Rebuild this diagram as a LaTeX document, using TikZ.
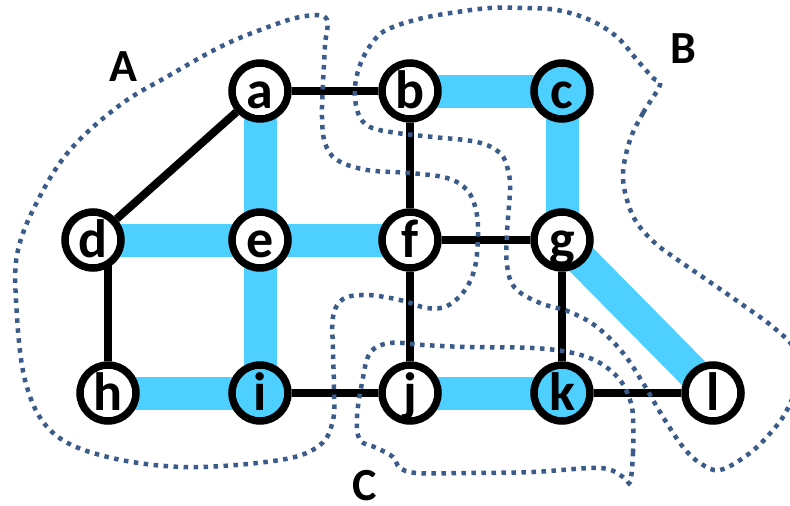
\documentclass[tikz,border=0pt]{standalone}
\usepackage{fontspec}
\setmainfont{Carlito}
\usetikzlibrary{backgrounds}

\definecolor{treeblue}{RGB}{77,208,255}
\definecolor{cutblue}{RGB}{59,91,138}

\begin{document}
\begin{tikzpicture}[
    x=1pt, y=-1pt,
    vertex/.style={circle, draw, line width=7.5pt, fill=white, minimum size=56pt, inner sep=0pt, text height=35pt, text depth=0pt, font=\fontsize{54}{60}\selectfont\bfseries},
    edge/.style={draw, line width=8pt},
    tree/.style={draw, treeblue, line width=33pt},
    cut/.style={draw, cutblue, line width=4.5pt, dash pattern=on 4.5pt off 5.5pt},
    region/.style={inner sep=0pt, font=\fontsize{46}{50}\selectfont\bfseries}
]
\clip (0,0) rectangle (790,506);

% Define node positions
\node[vertex] (a) at (260, 91) {a};
\node[vertex] (b) at (410, 91) {b};
\node[vertex, fill=treeblue] (c) at (562, 91) {c};
\node[vertex] (d) at (93, 240) {d};
\node[vertex] (e) at (260, 240) {e};
\node[vertex] (f) at (410, 240) {f};
\node[vertex] (g) at (562, 240) {g};
\node[vertex] (h) at (108, 393) {h};
\node[vertex, fill=treeblue] (i) at (260, 393) {i};
\node[vertex] (j) at (410, 393) {j};
\node[vertex, fill=treeblue] (k) at (562, 393) {k};
\node[vertex] (l) at (713, 393) {l};

% Region labels
\node[region] (labA) at (123, 67) {A};
\node[region] (labB) at (683, 49) {B};
\node[region] (labC) at (365, 486) {C};

\begin{scope}[on background layer]
% Spanning tree edges (wide blue)
\draw[tree] (a.center) -- (e.center);
\draw[tree] (d.center) -- (e.center);
\draw[tree] (e.center) -- (f.center);
\draw[tree] (e.center) -- (i.center);
\draw[tree] (h.center) -- (i.center);
\draw[tree] (b.center) -- (c.center);
\draw[tree] (c.center) -- (g.center);
\draw[tree] (g.center) -- (l.center);
\draw[tree] (j.center) -- (k.center);

% Other edges
\draw[edge] (a) -- (b);
\draw[edge] (a) -- (d);
\draw[edge] (b) -- (f);
\draw[edge] (f) -- (g);
\draw[edge] (f) -- (j);
\draw[edge] (h) -- (h |- d.center);
\draw[edge] (i) -- (j);
\draw[edge] (g) -- (k);
\draw[edge] (k) -- (l);
\end{scope}

% Region A
\draw[cut] plot[smooth cycle, tension=0.6] coordinates {
    (326,18) (325,45) (323,83) (322,117) (325,143) (337,160) (367,170)
    (410,173) (447,178) (467,190) (476,210) (478,235) (475,267) (465,290)
    (447,306) (427,308) (400,300) (367,295) (343,299) (333,317) (333,350)
    (334,390) (333,420) (320,445) (280,460) (183,467) (100,455) (50,430)
    (25,380) (16,300) (18,250) (38,200) (70,150) (120,105) (170,75)
    (220,47) (260,30) (300,17)};

% Region B
\draw[cut] plot[smooth cycle, tension=0.6] coordinates {
    (660,85) (643,113) (630,140) (623,173) (627,200) (637,223) (655,243)
    (675,258) (707,280) (740,303) (773,327) (795,350) (798,380) (787,410)
    (773,430) (750,453) (720,470) (700,463) (683,447) (663,417) (643,383)
    (623,353) (597,327) (570,312) (540,303) (515,288) (507,265) (507,233)
    (510,190) (508,170) (500,153) (477,142) (433,137) (397,133) (370,127)
    (358,113) (355,87) (362,60) (377,37) (393,27) (423,18) (457,12)
    (490,8) (523,8) (557,10) (590,20) (617,37) (637,60) (653,78)};

% Region C
\draw[cut] plot[smooth cycle, tension=0.6] coordinates {
    (630,482) (633,453) (633,417) (630,400) (620,380) (600,363) (573,353)
    (533,348) (467,347) (423,345) (390,343) (370,353) (362,383) (357,417)
    (360,440) (377,448) (393,457) (400,468) (417,473) (467,473) (533,472)
    (600,468) (623,477)};

\end{tikzpicture}
\end{document}
